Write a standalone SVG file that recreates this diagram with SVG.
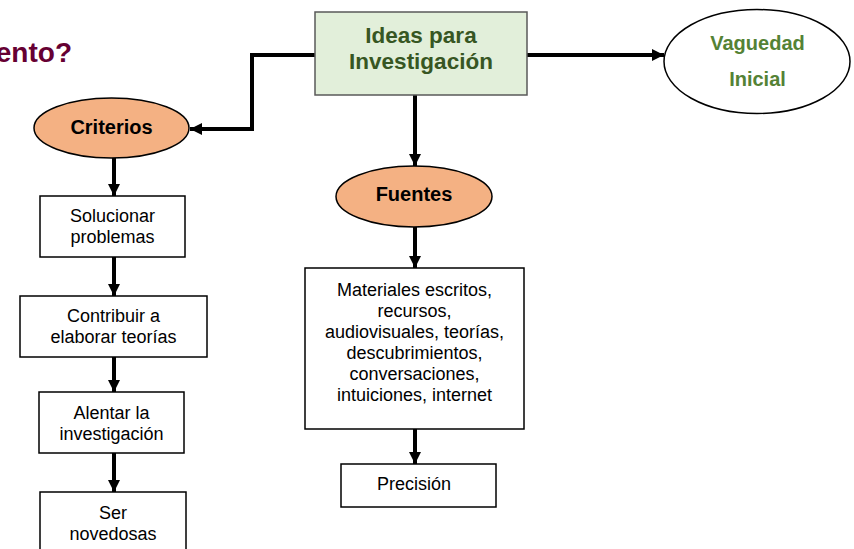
<svg xmlns="http://www.w3.org/2000/svg" width="854" height="549" viewBox="0 0 854 549">
<style>
.box{fill:#fff;stroke:#000;stroke-width:1.5}
.oval{fill:#F4B183;stroke:#000;stroke-width:1.5}
.t{font-family:"Liberation Sans",Arial,sans-serif;font-size:18px;fill:#000;text-anchor:middle}
.b{font-family:"Liberation Sans",Arial,sans-serif;font-weight:bold;font-size:20px;fill:#000;text-anchor:middle}
.con{fill:none;stroke:#000;stroke-width:4;marker-end:url(#ah)}
</style>
<defs>
<marker id="ah" markerUnits="userSpaceOnUse" markerWidth="14" markerHeight="14" refX="12" refY="7" orient="auto">
<path d="M0,1 L12,7 L0,13 Z" fill="#000"/>
</marker>
</defs>
<rect width="854" height="549" fill="#fff"/>
<text x="72" y="62" font-family="Liberation Sans,Arial,sans-serif" font-weight="bold" font-size="28" fill="#660033" text-anchor="end">ento?</text>
<g id="connectors">
<path class="con" d="M315,55 H252 V129 H190"/>
<path class="con" d="M527,55 H664"/>
<path class="con" d="M415,95 V166"/>
<path class="con" d="M114,158 V196"/>
<path class="con" d="M114,257 V296"/>
<path class="con" d="M114,357 V392"/>
<path class="con" d="M114,453 V492"/>
<path class="con" d="M415,227 V268"/>
<path class="con" d="M415,429 V464"/>
</g>
<g id="ideas">
<rect x="315" y="12" width="212" height="83" fill="#E2EFDA" stroke="#595959" stroke-width="1.5"/>
<text class="b" x="421" y="43" style="font-size:22.5px;fill:#375623">Ideas para</text>
<text class="b" x="421" y="69" style="font-size:22.5px;fill:#375623">Investigación</text>
</g>
<g id="vaguedad">
<ellipse cx="757" cy="61.5" rx="93" ry="52" fill="#fff" stroke="#000" stroke-width="1.5"/>
<text class="b" x="757.5" y="50" style="fill:#548235">Vaguedad</text>
<text class="b" x="757.5" y="86" style="fill:#548235">Inicial</text>
</g>
<g id="criterios">
<ellipse class="oval" cx="111.5" cy="128" rx="77.5" ry="30"/>
<text class="b" x="111.5" y="134">Criterios</text>
</g>
<g id="solucionar">
<rect class="box" x="40" y="196" width="145" height="61"/>
<text class="t" x="112.5" y="222">Solucionar</text>
<text class="t" x="112.5" y="243">problemas</text>
</g>
<g id="contribuir">
<rect class="box" x="20" y="296" width="187" height="61"/>
<text class="t" x="113.5" y="322">Contribuir a</text>
<text class="t" x="113.5" y="343">elaborar teorías</text>
</g>
<g id="alentar">
<rect class="box" x="39" y="392" width="145" height="61"/>
<text class="t" x="111.5" y="419">Alentar la</text>
<text class="t" x="111.5" y="440">investigación</text>
</g>
<g id="ser">
<rect class="box" x="40" y="492" width="146" height="70"/>
<text class="t" x="113" y="519">Ser</text>
<text class="t" x="113" y="540">novedosas</text>
</g>
<g id="fuentes">
<ellipse class="oval" cx="414" cy="196.5" rx="78" ry="30.5"/>
<text class="b" x="414" y="201">Fuentes</text>
</g>
<g id="materiales">
<rect class="box" x="305" y="268" width="219" height="161"/>
<text class="t" x="414.5" y="296">Materiales escritos,</text>
<text class="t" x="414.5" y="317">recursos,</text>
<text class="t" x="414.5" y="338">audiovisuales, teorías,</text>
<text class="t" x="414.5" y="359">descubrimientos,</text>
<text class="t" x="414.5" y="380">conversaciones,</text>
<text class="t" x="414.5" y="401">intuiciones, internet</text>
</g>
<g id="precision">
<rect class="box" x="341" y="464" width="155" height="43"/>
<text class="t" x="414" y="490">Precisión</text>
</g>
</svg>
